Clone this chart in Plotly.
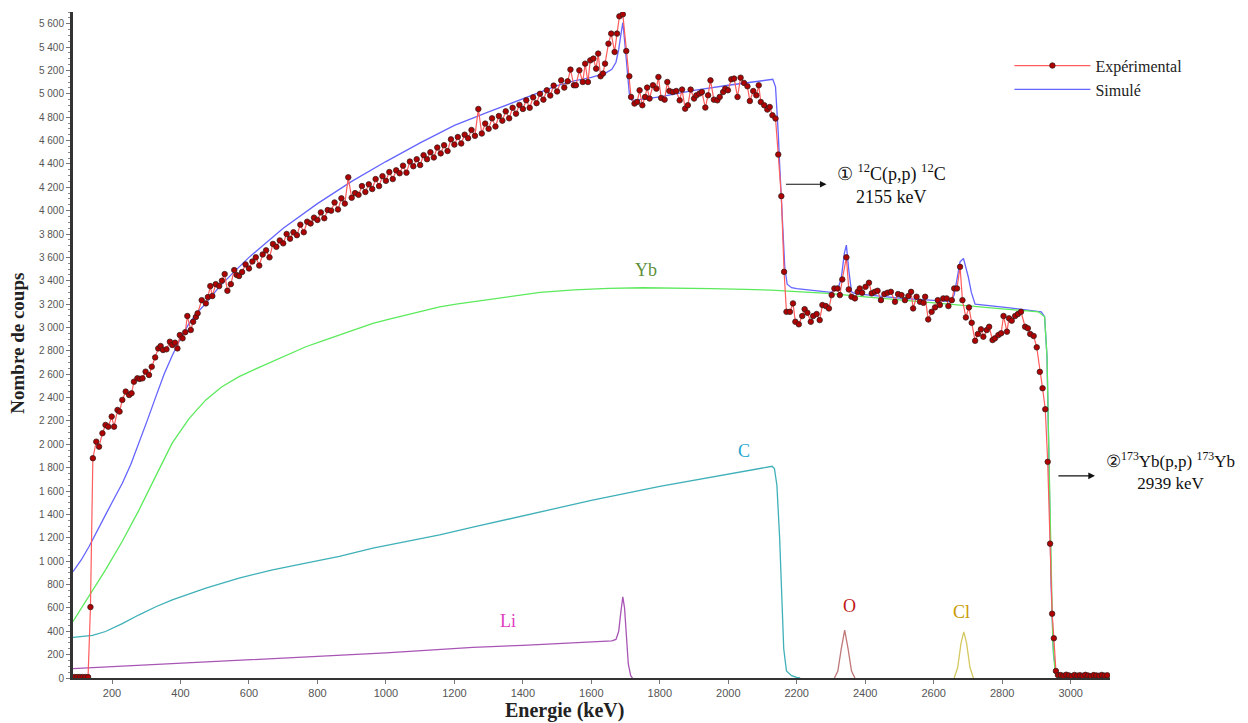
import plotly.graph_objects as go

# ---------------- data ----------------
exp_energy = [90, 98, 106, 114, 122, 130, 137, 144, 154, 162, 172, 181, 189, 199, 206, 216, 222, 230, 240, 250,
              257, 264, 274, 281, 289, 298, 308, 316, 326, 335, 342, 349, 359, 369, 376, 384, 391, 398, 406, 414,
              420, 430, 437, 445, 450, 462, 474, 480, 487, 493, 503, 513, 521, 529, 537, 547, 557, 564, 571,
              580, 590, 600, 610, 620, 630, 640, 650, 660, 670, 680, 690, 700, 710, 720, 730, 740, 750, 760, 770,
              780, 790, 800, 810, 820, 830, 840, 850, 860, 870, 880, 890, 900, 910, 920, 930, 940, 950, 960, 970,
              980, 990, 1000, 1010, 1020, 1030, 1040, 1050, 1060, 1070, 1080, 1090, 1100, 1110, 1120, 1130, 1140,
              1150, 1160, 1170, 1180, 1190, 1200, 1210, 1220, 1230, 1240, 1250, 1260, 1270, 1280, 1290, 1300, 1310,
              1320, 1330, 1340, 1350, 1360, 1370, 1380, 1390, 1400, 1410, 1420, 1430, 1440, 1450, 1460, 1470, 1480,
              1490, 1500,
              1512, 1521, 1531, 1539, 1549, 1555, 1565, 1575, 1582, 1590, 1597, 1606, 1614, 1620, 1627, 1634, 1640,
              1650, 1658, 1668, 1675, 1682, 1692, 1702, 1711, 1716, 1726, 1734, 1741, 1749, 1757, 1763, 1770, 1780,
              1790, 1796, 1804, 1814, 1822, 1828, 1838, 1848, 1858, 1865, 1874, 1882, 1890, 1900, 1907, 1916, 1923,
              1933, 1941, 1948, 1958, 1968, 1975, 1985, 1991, 1999, 2009, 2017, 2027, 2036, 2046, 2056, 2063, 2073,
              2082, 2089, 2095, 2105, 2114, 2121, 2129, 2138, 2146, 2155, 2163,
              2170, 2180, 2189, 2196, 2206, 2216, 2223, 2231, 2241, 2248, 2258, 2267, 2275, 2285, 2294, 2302, 2310,
              2319, 2326, 2333, 2345, 2352, 2360, 2370, 2378, 2384, 2391, 2401, 2411, 2419, 2428, 2436, 2446, 2456,
              2465, 2475, 2487, 2496, 2506, 2516, 2526, 2534, 2540, 2550, 2560, 2570, 2575, 2584, 2594, 2604, 2612,
              2618, 2628, 2638, 2643, 2653, 2660, 2668, 2677, 2684, 2694, 2703, 2711, 2721, 2729, 2738, 2745, 2755,
              2762, 2772, 2779, 2789, 2797, 2804, 2814, 2820, 2828, 2838, 2846, 2855, 2867, 2875, 2882, 2892, 2901,
              2910, 2918, 2926, 2933, 2940, 2946, 2951, 2957, 2963, 2971, 2979, 2987, 2995, 3003, 3011, 3019, 3027,
              3035, 3043, 3051, 3059, 3067, 3075, 3083, 3091, 3099, 3107]
exp_counts = [8, 8, 8, 8, 8, 8, 607, 1881, 2023, 1980, 2095, 2166, 2151, 2237, 2151, 2294, 2280, 2380, 2451, 2422,
              2437, 2536, 2565, 2560, 2565, 2622, 2593, 2664, 2744, 2821, 2841, 2807, 2813, 2878, 2850, 2870, 2821,
              2935, 2907, 2960, 3098, 2978, 3049, 3090, 3121, 3234, 3206, 3260, 3354, 3269, 3371, 3354, 3400, 3457,
              3314, 3371, 3491, 3450, 3440,
              3475, 3540, 3505, 3565, 3600, 3530, 3625, 3660, 3600, 3715, 3690, 3745, 3720, 3800, 3760, 3815, 3790,
              3880, 3815, 3905, 3890, 3940, 3920, 3985, 3935, 4005, 4000, 4070, 4010, 4105, 4060, 4285, 4110, 4150,
              4135, 4210, 4160, 4225, 4185, 4270, 4210, 4295, 4255, 4330, 4270, 4345, 4320, 4385, 4325, 4420, 4380,
              4440, 4390, 4475, 4440, 4500, 4455, 4540, 4490, 4560, 4510, 4610, 4565, 4630, 4575, 4650, 4620, 4690,
              4640, 4870, 4660, 4745, 4700, 4790, 4720, 4810, 4770, 4850, 4790, 4880, 4830, 4905, 4870, 4945, 4880,
              4970, 4920, 5000, 4950, 5030, 4985, 5070, 5020,
              5115, 5053, 5107, 5207, 5073, 5073, 5201, 5101, 5258, 5101, 5286, 5301, 5215, 5344, 5150, 5173, 5258,
              5429, 5515, 5358, 5515, 5663, 5680, 5366, 5150, 4973, 4916, 4930, 5030, 4902, 4973, 5053, 4959, 5073,
              5044, 5144, 4964, 4950, 5101, 5024, 5015, 5024, 4944, 5036, 4873, 4902, 5036, 4959, 4987, 5002, 5015,
              4882, 4987, 5115, 4950, 4944, 4973, 5015, 5044, 5030, 5124, 5130, 4973, 5138, 5093, 5064, 4938, 5024,
              4987, 5073, 4930, 4902, 4865, 4887, 4816, 4788, 4480, 4124, 3476,
              3134, 3134, 3206, 3049, 3027, 3098, 3157, 3126, 3049, 3098, 3115, 3063, 3192, 3183, 3163, 3277, 3334,
              3334, 3277, 3411, 3600, 3326, 3263, 3249, 3305, 3334, 3297, 3348, 3383, 3292, 3305, 3314, 3234, 3286,
              3297, 3305, 3220, 3286, 3277, 3234, 3269, 3305, 3163, 3263, 3220, 3211, 3263, 3069, 3134, 3172, 3234,
              3192, 3249, 3249, 3183, 3234, 3334, 3334, 3519, 3234, 3086, 3172, 3040, 2886, 2944, 2984, 2921, 2978,
              3006, 2892, 2907, 2935, 2950, 3098, 2964, 3078, 3058, 3098, 3115, 3134, 3006, 2993, 2944, 2927, 2830,
              2620, 2480, 2300, 1850, 1150, 550, 340, 60, 25, 25, 18, 28, 22, 15, 26, 20, 24,
              18, 27, 21, 16, 25, 22, 19, 26, 20, 23]

sim_energy = [86, 110, 133, 160, 181, 205, 230, 255, 279, 303, 328, 352, 376, 400, 425, 450, 474, 513, 552,
              600, 700, 800, 900, 1000, 1100, 1200, 1300, 1400, 1500, 1550, 1600, 1640, 1660, 1672, 1680, 1686,
              1692, 1697, 1702, 1706, 1711, 1718, 1740, 1800, 1900, 2000, 2100, 2130, 2138, 2142, 2146, 2150,
              2155, 2160, 2165, 2172, 2185, 2200, 2250, 2300, 2320, 2330, 2339, 2345, 2352, 2360, 2370, 2400,
              2500, 2600, 2650, 2660, 2667, 2677, 2687, 2694, 2701, 2710, 2721, 2809, 2900, 2914, 2924, 2931,
              2937, 2943, 2950, 2958, 2970, 3115]
sim_counts = [910, 1010, 1125, 1270, 1396, 1530, 1667, 1830, 2009, 2205, 2408, 2600, 2760, 2905, 3035, 3130,
              3206, 3348, 3463, 3600, 3850, 4060, 4250, 4420, 4580, 4730, 4845, 4960, 5070, 5110, 5140, 5175,
              5210, 5270, 5380, 5500, 5610, 5460, 5300, 5173, 5002, 4944, 4950, 4973, 5030, 5073, 5115, 5124,
              5060, 4900, 4661, 4400, 4090, 3800, 3519, 3370, 3340, 3332, 3315, 3300, 3330, 3420, 3634, 3705,
              3491, 3305, 3290, 3282, 3252, 3232, 3222, 3280, 3405, 3562, 3591, 3520, 3434, 3300, 3200, 3172,
              3140, 3134, 3092, 2750, 1800, 800, 200, 30, 0, 0]

yb_energy = [86, 133, 181, 230, 279, 328, 376, 425, 474, 520, 571, 620, 669, 720, 766, 815, 864, 913, 962, 1010,
             1059, 1108, 1157, 1205, 1254, 1350, 1450, 1550, 1650, 1750, 1850, 1950, 2050, 2126, 2200, 2292,
             2400, 2516, 2600, 2711, 2800, 2906, 2924, 2931, 2936, 2942, 2948, 2955, 2965, 3115]
yb_counts = [484, 700, 926, 1170, 1439, 1730, 2012, 2220, 2380, 2490, 2579, 2645, 2707, 2775, 2835, 2885, 2935,
             2985, 3035, 3072, 3106, 3143, 3177, 3200, 3220, 3265, 3300, 3322, 3335, 3340, 3338, 3333, 3326,
             3320, 3307, 3291, 3262, 3234, 3215, 3183, 3160, 3134, 3092, 2750, 2000, 1000, 300, 40, 0, 0]

c_energy = [86, 120, 143, 181, 230, 279, 328, 376, 425, 474, 571, 669, 766, 864, 962, 1059, 1157, 1254, 1400,
            1600, 1800, 2000, 2100, 2128, 2135, 2142, 2150, 2156, 2162, 2170, 2185, 2200, 2210]
c_counts = [347, 358, 364, 398, 465, 541, 610, 669, 722, 769, 855, 926, 983, 1040, 1111, 1168, 1225, 1291, 1385,
            1520, 1640, 1745, 1795, 1812, 1790, 1650, 1200, 700, 250, 60, 20, 5, 0]

li_energy = [86, 200, 400, 600, 800, 1000, 1254, 1400, 1600, 1660, 1672, 1680, 1686, 1692, 1697, 1702, 1708, 1715, 1720]
li_counts = [80, 96, 130, 157, 185, 215, 262, 280, 305, 318, 330, 400, 560, 695, 600, 350, 120, 20, 0]

o_energy = [2310, 2320, 2330, 2340, 2350, 2360, 2370]
o_counts = [0, 60, 250, 410, 250, 60, 0]

cl_energy = [2660, 2670, 2680, 2688, 2696, 2706, 2716]
cl_counts = [0, 90, 300, 395, 300, 90, 0]

element_labels = ["Yb", "C", "Li", "O", "Cl"]
label_energy = [1760, 2047, 1357, 2354, 2682]
label_counts = [3491, 1943, 490, 618, 567]
label_colors = ["#5f8f3a", "#1fa8d0", "#e040c0", "#c01818", "#c89a00"]

y_ticks = list(range(0, 5601, 200))
x_ticks = list(range(200, 3001, 200))

# ---------------- figure ----------------
serif = "Liberation Serif, Times New Roman, serif"
sans = "Liberation Sans, Arial, sans-serif"

fig = go.Figure()

fig.add_trace(go.Scatter(x=li_energy, y=li_counts, mode="lines", line=dict(color="#a855b5", width=1.3),
                         showlegend=False, hoverinfo="skip"))
fig.add_trace(go.Scatter(x=c_energy, y=c_counts, mode="lines", line=dict(color="#3fb0b8", width=1.3),
                         showlegend=False, hoverinfo="skip"))
fig.add_trace(go.Scatter(x=o_energy, y=o_counts, mode="lines", line=dict(color="#c07878", width=1.3),
                         showlegend=False, hoverinfo="skip"))
fig.add_trace(go.Scatter(x=cl_energy, y=cl_counts, mode="lines", line=dict(color="#d4c860", width=1.3),
                         showlegend=False, hoverinfo="skip"))
fig.add_trace(go.Scatter(x=sim_energy, y=sim_counts, mode="lines", name="Simulé",
                         line=dict(color="#6464ff", width=1.3), legendrank=2))
fig.add_trace(go.Scatter(x=yb_energy, y=yb_counts, mode="lines", line=dict(color="#5cea5c", width=1.3),
                         showlegend=False, hoverinfo="skip"))
fig.add_trace(go.Scatter(x=exp_energy, y=exp_counts, mode="lines+markers", name="Expérimental",
                         line=dict(color="#ff5c5c", width=1.2),
                         marker=dict(symbol="circle", size=5.5, color="#b00000",
                                     line=dict(color="#3a2020", width=0.8)),
                         legendrank=1))

annotations = []
for lab, xe, yc, col in zip(element_labels, label_energy, label_counts, label_colors):
    annotations.append(dict(x=xe, y=yc, xref="x", yref="y", text=lab, showarrow=False,
                            font=dict(family=serif, size=18, color=col)))

# arrows + reaction annotations
annotations.append(dict(x=2287, y=4226, ax=2164, ay=4226, xref="x", yref="y", axref="x", ayref="y",
                        text="", showarrow=True, arrowhead=2, arrowsize=1.1, arrowwidth=1.2, arrowcolor="#111"))
annotations.append(dict(x=2477, y=4230, xref="x", yref="y",
                        text="\u2460 <sup>12</sup>C(p,p) <sup>12</sup>C<br>2155 keV",
                        showarrow=False, align="center",
                        font=dict(family=serif, size=18, color="#111")))
annotations.append(dict(x=3071, y=1730, ax=2960, ay=1730, xref="x", yref="y", axref="x", ayref="y",
                        text="", showarrow=True, arrowhead=2, arrowsize=1.1, arrowwidth=1.2, arrowcolor="#111"))
annotations.append(dict(x=3115, y=1775, xref="x", yref="y", xshift=60,
                        text="\u2461<sup>173</sup>Yb(p,p) <sup>173</sup>Yb<br>2939 keV",
                        showarrow=False, align="center", xanchor="center",
                        font=dict(family=serif, size=17, color="#111")))

# axis titles
annotations.append(dict(x=0.4735, y=-0.0495, xref="paper", yref="paper", text="<b>Energie (keV)</b>",
                        showarrow=False, xanchor="center", yanchor="middle",
                        font=dict(family=serif, size=20, color="#222")))
annotations.append(dict(x=-0.053, y=0.502, xref="paper", yref="paper", text="<b>Nombre de coups</b>",
                        showarrow=False, textangle=-90, xanchor="center", yanchor="middle",
                        font=dict(family=serif, size=19, color="#222")))

fig.update_layout(
    width=1240, height=715,
    margin=dict(l=65, r=138, t=4, b=45, autoexpand=False),
    paper_bgcolor="white", plot_bgcolor="white",
    showlegend=True,
    legend=dict(x=0.903, y=0.945, xanchor="left", yanchor="top",
                font=dict(family=serif, size=16, color="#222"),
                bgcolor="rgba(0,0,0,0)", itemwidth=76, tracegroupgap=0),
    annotations=annotations,
    xaxis=dict(range=[86, 3115], tickvals=x_ticks, ticktext=[str(v) for v in x_ticks],
               showgrid=False, zeroline=False, showline=True, linecolor="#333", linewidth=2,
               ticks="outside", ticklen=4, tickcolor="#777", tickwidth=1,
               tickfont=dict(family=sans, size=11, color="#555")),
    yaxis=dict(range=[0, 5700], tickvals=y_ticks,
               ticktext=[f"{v:,}".replace(",", " ") for v in y_ticks],
               showgrid=False, zeroline=False, showline=True, linecolor="#333", linewidth=3,
               ticks="outside", ticklen=4, tickcolor="#777", tickwidth=1,
               tickfont=dict(family=sans, size=10, color="#555"),
               minor=dict(ticks="outside", ticklen=2, tickcolor="#888", dtick=50)),
)

fig.write_html("out.html")
